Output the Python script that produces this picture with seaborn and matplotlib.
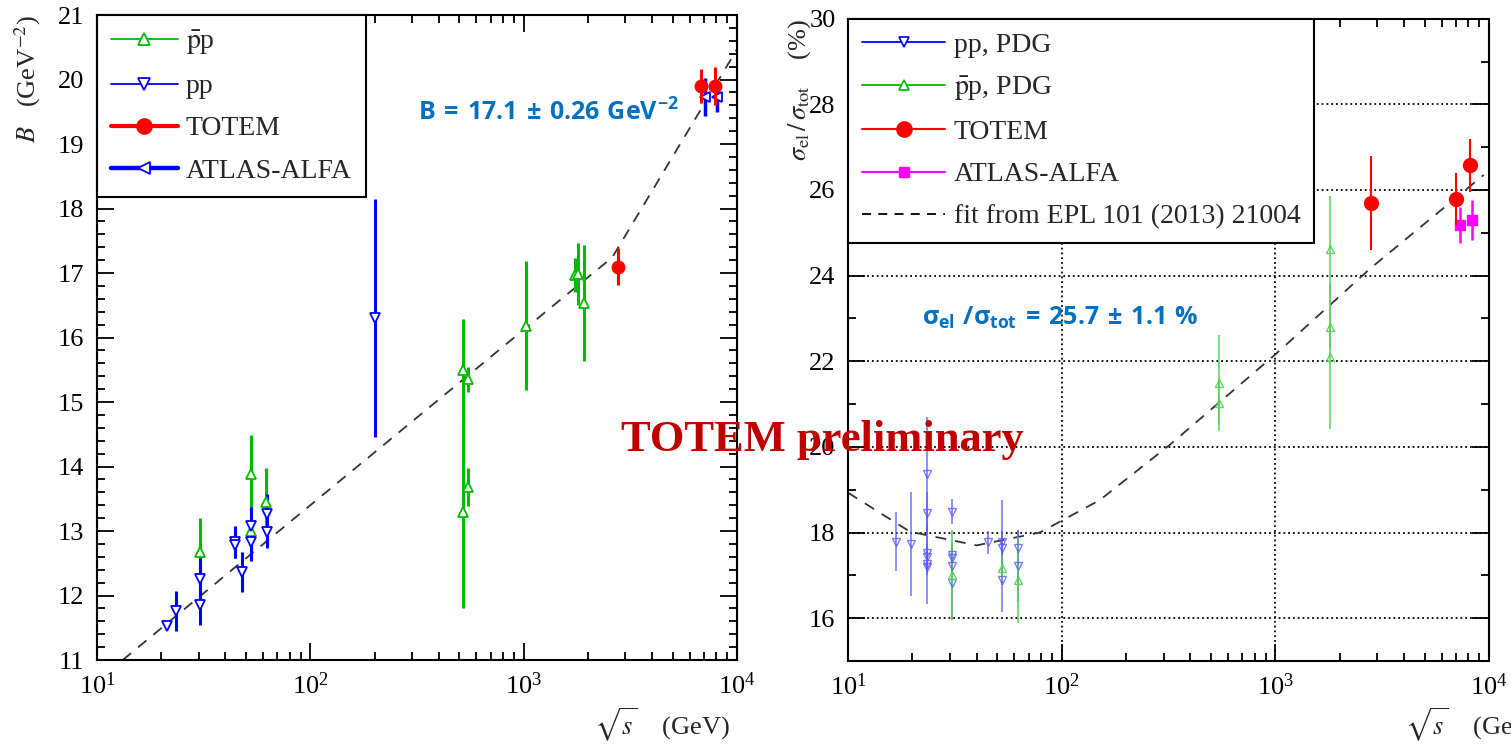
import numpy as np
import pandas as pd
import seaborn as sns
import matplotlib.pyplot as plt
from matplotlib.lines import Line2D
from matplotlib.ticker import MultipleLocator, LogLocator

# ---- left panel: nuclear slope B ----
ppbar_x = [30.4, 52.5, 52.5, 61.8, 521, 521, 546, 550, 1020, 1742, 1800, 1927]
ppbar_y = [12.68, 13.89, 13.0, 13.45, 13.3, 15.49, 15.35, 13.68, 16.18, 16.97, 16.98, 16.53]
ppbar_e = [0.52, 0.6, 0.15, 0.53, 1.5, 0.8, 0.2, 0.3, 1.0, 0.27, 0.48, 0.9]

pp_x = [21.2, 23.5, 30.4, 30.4, 44.5, 44.5, 47.6, 52.5, 52.5, 62.7, 62.7, 200]
pp_y = [11.53, 11.76, 12.25, 11.85, 12.83, 12.78, 12.37, 13.07, 12.83, 13.27, 12.99, 16.3]
pp_e = [0.05, 0.31, 0.33, 0.3, 0.25, 0.2, 0.31, 0.3, 0.3, 0.3, 0.25, 1.85]

totem_x = [2760, 6800, 7900]
totem_y = [17.1, 19.9, 19.9]
totem_e = [0.28, 0.27, 0.3]

alfa_x = [7080, 8040]
alfa_y = [19.73, 19.73]
alfa_e = [0.3, 0.24]

bfit_x = [13.2, 100, 1000, 2600, 10000]
bfit_y = [11.0, 13.4, 16.12, 17.24, 20.47]

# ---- right panel: sigma_el / sigma_tot ----
r_pp_x = [16.7, 19.7, 23.4, 23.4, 23.4, 23.4, 23.4, 23.4, 30.7, 30.7, 30.7, 30.7, 30.7,
          45, 52.7, 52.7, 52.7, 62.7, 62.7]
r_pp_y = [17.79, 17.73, 19.37, 18.45, 17.52, 17.44, 17.27, 17.2, 18.49, 17.48, 17.4, 17.23, 16.83,
          17.77, 17.77, 17.63, 16.89, 17.65, 17.23]
r_pp_e = [0.68, 1.22, 1.33, 0.5, 0.4, 0.3, 0.93, 0.2, 0.3, 0.3, 0.2, 0.2, 0.85,
          0.26, 1.0, 0.4, 0.75, 0.42, 0.84]

r_ppbar_x = [30.7, 52.7, 62.7, 546, 546, 1800, 1800, 1800]
r_ppbar_y = [17.0, 17.17, 16.89, 21.49, 21.02, 24.62, 22.81, 22.11]
r_ppbar_e = [1.05, 0.3, 1.0, 1.12, 0.5, 1.24, 0.5, 1.7]

r_totem_x = [2800, 6980, 8180]
r_totem_y = [25.69, 25.79, 26.58]
r_totem_e = [1.1, 0.6, 0.62]

r_alfa_x = [7340, 8340]
r_alfa_y = [25.18, 25.3]
r_alfa_e = [0.42, 0.47]

rfit_x = [10, 19.5, 40, 79, 151, 321, 1016, 2786, 9440]
rfit_y = [18.93, 18.02, 17.7, 18.0, 18.76, 20.05, 22.19, 24.17, 26.35]

GREEN = "#00bb00"
BLUE = "#0000ff"
RED = "#ff0000"
DARKBLUE = "#0070c0"

sns.set_theme(style="ticks")
plt.rcParams["font.family"] = ["Liberation Serif", "DejaVu Serif"]
plt.rcParams["mathtext.fontset"] = "stix"
plt.rcParams["mathtext.rm"] = "Open Sans:bold"
plt.rcParams["mathtext.it"] = "Open Sans:bold"
plt.rcParams["mathtext.bf"] = "Open Sans:bold"
plt.rcParams["axes.linewidth"] = 1.5
plt.rcParams["axes.edgecolor"] = "black"

fig = plt.figure(figsize=(15.11, 7.5), dpi=100)
axL = fig.add_axes([97 / 1511, 90 / 750, 640 / 1511, 645 / 750])
axR = fig.add_axes([848 / 1511, 89 / 750, 641 / 1511, 642.3 / 750])


def style_axes(ax):
    ax.set_xscale("log")
    ax.set_xlim(10, 1e4)
    ax.xaxis.set_minor_locator(LogLocator(subs=np.arange(2, 10)))
    ax.tick_params(which="both", direction="in", top=True, right=True,
                   colors="black", labelsize=19, width=1.3)
    ax.tick_params(which="major", length=12, pad=9)
    ax.tick_params(which="minor", length=6)
    for s in ax.spines.values():
        s.set_visible(True)
        s.set_color("black")


# left panel
sns.lineplot(x=bfit_x, y=bfit_y, ax=axL, color="#333333", lw=1.3,
             linestyle=(0, (6, 5)), zorder=2)
axL.errorbar(ppbar_x, ppbar_y, yerr=ppbar_e, fmt="^", color=GREEN, mfc="white",
             mec=GREEN, ms=7, mew=1.3, elinewidth=2.2, capsize=0, zorder=3)
axL.errorbar(pp_x, pp_y, yerr=pp_e, fmt="v", color=BLUE, mfc="white",
             mec=BLUE, ms=7, mew=1.3, elinewidth=2.2, capsize=0, zorder=3)
axL.errorbar(alfa_x, alfa_y, yerr=alfa_e, fmt="<", color=BLUE, mfc="white",
             mec=BLUE, ms=7, mew=1.3, elinewidth=2.5, capsize=0, zorder=4)
axL.errorbar(totem_x, totem_y, yerr=totem_e, fmt="o", color=RED, mfc=RED,
             mec=RED, ms=9, elinewidth=2.2, capsize=0, zorder=5)
style_axes(axL)
axL.set_ylim(11, 21)
axL.yaxis.set_major_locator(MultipleLocator(1))
axL.yaxis.set_minor_locator(MultipleLocator(0.2))
axL.set_xlabel("")
axL.set_ylabel("")
axL.text(-0.108, 1.0, r"$B$   (GeV$^{-2}$)", rotation=90, transform=axL.transAxes,
         ha="center", va="top", fontsize=19)
axL.text(0.989, -0.10, r"$\sqrt{s}$    (GeV)", transform=axL.transAxes,
         ha="right", va="center", fontsize=19)
axL.text(0.5016, 0.85, r"$B\,=\,17.1\,\pm\,0.26\ GeV^{-2}$", transform=axL.transAxes,
         ha="left", va="center", fontsize=18, color=DARKBLUE, math_fontfamily="custom")

handlesL = [
    Line2D([], [], color=GREEN, lw=1.3, marker="^", mfc="white", mec=GREEN, ms=9, mew=1.3),
    Line2D([], [], color=BLUE, lw=1.3, marker="v", mfc="white", mec=BLUE, ms=9, mew=1.3),
    Line2D([], [], color=RED, lw=3, marker="o", mfc=RED, mec=RED, ms=11),
    Line2D([], [], color=BLUE, lw=3.2, marker="<", mfc="white", mec=BLUE, ms=9, mew=1.3),
]
legL = axL.legend(handlesL, [r"$\bar{\mathrm{p}}$p", "pp", "TOTEM", "ATLAS-ALFA"],
                  loc="upper left", bbox_to_anchor=(0, 1), borderaxespad=0,
                  fontsize=20, frameon=True, fancybox=False, framealpha=1,
                  edgecolor="black", handlelength=2.4, handletextpad=0.3,
                  labelspacing=0.6, borderpad=0.5)
legL.get_frame().set_linewidth(1.5)

# right panel
sns.lineplot(x=rfit_x, y=rfit_y, ax=axR, color="#333333", lw=1.3,
             linestyle=(0, (6, 5)), zorder=2)
axR.errorbar(r_pp_x, r_pp_y, yerr=r_pp_e, fmt="v", color="#5a5aff", mfc="none",
             mec="#5a5aff", ms=6, mew=1.0, elinewidth=1.2, capsize=0, alpha=0.8, zorder=3)
axR.errorbar(r_ppbar_x, r_ppbar_y, yerr=r_ppbar_e, fmt="^", color="#55d055", mfc="none",
             mec="#55d055", ms=6, mew=1.0, elinewidth=1.2, capsize=0, alpha=0.9, zorder=3)
axR.errorbar(r_totem_x, r_totem_y, yerr=r_totem_e, fmt="o", color=RED, mfc=RED,
             mec=RED, ms=10, elinewidth=1.5, capsize=0, zorder=5)
axR.errorbar(r_alfa_x, r_alfa_y, yerr=r_alfa_e, fmt="s", color="#ff00ff", mfc="#ff00ff",
             mec="#ff00ff", ms=6.5, elinewidth=1.8, capsize=0, zorder=4)
style_axes(axR)
axR.set_ylim(15, 30)
axR.yaxis.set_major_locator(MultipleLocator(2))
axR.yaxis.set_minor_locator(MultipleLocator(1))
axR.set_axisbelow(True)
axR.grid(True, which="major", linestyle=":", linewidth=1.3, color="black")
axR.set_xlabel("")
axR.set_ylabel("")
axR.text(-0.075, 1.0, r"$\sigma_{\mathrm{el}}\,/\,\sigma_{\mathrm{tot}}$    (%)", rotation=90,
         transform=axR.transAxes, ha="center", va="top", fontsize=19)
fig.text(1405 / 1511, 1 - 725 / 750, r"$\sqrt{s}$    (GeV)", ha="left", va="center",
         fontsize=19)
axR.text(0.115, 0.534, r"$\sigma_{el}\ /\sigma_{tot}\,=\,25.7\,\pm\,1.1\ \%$",
         transform=axR.transAxes, ha="left", va="center", fontsize=18, color=DARKBLUE,
         math_fontfamily="custom")

handlesR = [
    Line2D([], [], color=BLUE, lw=1.3, marker="v", mfc="white", mec=BLUE, ms=7, mew=1.2),
    Line2D([], [], color=GREEN, lw=1.3, marker="^", mfc="white", mec=GREEN, ms=7, mew=1.2),
    Line2D([], [], color=RED, lw=1.5, marker="o", mfc=RED, mec=RED, ms=11),
    Line2D([], [], color="#ff00ff", lw=1.5, marker="s", mfc="#ff00ff", mec="#ff00ff", ms=7),
    Line2D([], [], color="black", lw=1.3, linestyle=(0, (5, 4))),
]
legR = axR.legend(handlesR, ["pp, PDG", r"$\bar{\mathrm{p}}$p, PDG", "TOTEM", "ATLAS-ALFA",
                             "fit from EPL 101 (2013) 21004"],
                  loc="upper left", bbox_to_anchor=(0, 1), borderaxespad=0,
                  fontsize=20, frameon=True, fancybox=False, framealpha=1,
                  edgecolor="black", handlelength=3.0, handletextpad=0.3,
                  labelspacing=0.6, borderpad=0.5)
legR.get_frame().set_linewidth(1.5)

fig.text(822 / 1511, 1 - 440 / 750, "TOTEM preliminary", ha="center", va="center",
         fontsize=32, fontweight="bold", color="#c00000", zorder=10)

fig.savefig("out.png", dpi=100)
